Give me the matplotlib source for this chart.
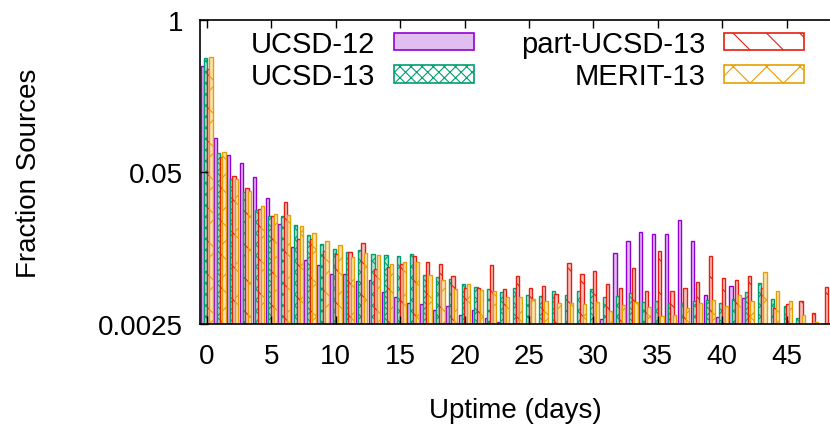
import numpy as np
import matplotlib
matplotlib.use("Agg")
import matplotlib.pyplot as plt
from matplotlib.patches import Patch

plt.rcParams['font.family'] = ['Liberation Sans', 'DejaVu Sans']
plt.rcParams['hatch.linewidth'] = 0.8

days = np.arange(49)

ucsd12 = [0.406, 0.0977, 0.0704, 0.0597, 0.0450, 0.0298, 0.0179, 0.0114, 0.0089, 0.0080,
          0.0067, 0.0067, 0.00588, 0.00600, 0.00467, 0.00423, 0.00376, 0.00371, 0.00329, 0.00354,
          0.00298, 0.00329, 0.00281, 0.00258, 0.0024, 0.002, 0.002, 0.002, 0.002, 0.002,
          0.002, 0.00276, 0.0102, 0.0129, 0.0152, 0.0146, 0.0146, 0.0194, 0.0129, 0.00446,
          0.00285, 0.00528, 0.00418, 0.0023, 0.002, 0.002, 0.002, 0.002, 0.002]
ucsd13 = [0.470, 0.0722, 0.0439, 0.0337, 0.0236, 0.0211, 0.0211, 0.0177, 0.0144, 0.0120,
          0.0110, 0.0103, 0.0108, 0.0099, 0.00975, 0.00955, 0.0099, 0.00657, 0.00628, 0.00607,
          0.00551, 0.00523, 0.00499, 0.00467, 0.00509, 0.00446, 0.00434, 0.00483, 0.00443, 0.00483,
          0.00502, 0.00423, 0.00434, 0.00458, 0.00388, 0.00396, 0.00376, 0.00376, 0.00396, 0.00401,
          0.00376, 0.00407, 0.00467, 0.00565, 0.00410, 0.00359, 0.00281, 0.0024, 0.002]
part_ucsd13 = [0.381, 0.0668, 0.0459, 0.0365, 0.0240, 0.0211, 0.0279, 0.0133, 0.0133, 0.0106,
               0.0099, 0.0103, 0.0123, 0.00739, 0.00774, 0.00816, 0.00955, 0.00855, 0.00816, 0.00640,
               0.00509, 0.00509, 0.0080, 0.00496, 0.00640, 0.00505, 0.00525, 0.00452, 0.00826, 0.00670,
               0.00706, 0.00551, 0.00509, 0.00750, 0.00480, 0.0105, 0.00480, 0.00505, 0.00576, 0.00949,
               0.00619, 0.00591, 0.00640, 0.00509, 0.00343, 0.00371, 0.00391, 0.00313, 0.0052]
merit13 = [0.479, 0.0746, 0.0439, 0.0346, 0.0254, 0.0219, 0.0214, 0.0172, 0.0149, 0.0128,
           0.0119, 0.0094, 0.0101, 0.00975, 0.00816, 0.00855, 0.00843, 0.00653, 0.00600, 0.00496,
           0.00551, 0.00489, 0.00483, 0.00428, 0.00423, 0.00410, 0.00396, 0.00376, 0.00381, 0.00371,
           0.00386, 0.00325, 0.00364, 0.00383, 0.00347, 0.00293, 0.00297, 0.00340, 0.00378, 0.00404,
           0.00357, 0.00440, 0.00396, 0.00697, 0.00480, 0.00394, 0.00298, 0.0026, 0.00254]

labels = ['UCSD-12', 'UCSD-13', 'part-UCSD-13', 'MERIT-13']
series = [ucsd12, ucsd13, part_ucsd13, merit13]
colors = ['#9400D3', '#009E73', '#E51E10', '#E69F00']
faces = ['#E1BEF0', '#B8E0D4', '#F6C4C0', '#F8E2B8']
hatches = ['', 'xxx', '\\', 'x']

fig = plt.figure(figsize=(8.3, 4.27), dpi=100)
ax = fig.add_axes([200/830, 102/427, 650/830, 304/427])

w = 0.256
offs = [-0.32, -0.107, 0.107, 0.32]
for s, c, f, h, o in zip(series, colors, faces, hatches, offs):
    ax.bar(days + o, s, width=w, facecolor=f, edgecolor=c, hatch=h, linewidth=1.0)

ax.set_yscale('log')
ax.set_ylim(0.0025, 1)
ax.set_yticks([0.0025, 0.05, 1])
ax.set_yticklabels(['0.0025', '0.05', '1'])
ax.yaxis.set_minor_locator(matplotlib.ticker.NullLocator())
ax.set_xlim(-0.54, (850 - 207) / 12.88)
ax.set_xticks(np.arange(0, 50, 5))
ax.tick_params(axis='both', direction='in', labelsize=20, length=6, width=1,
               top=True, right=False)
ax.tick_params(axis='x', pad=14)
ax.tick_params(axis='y', pad=12)
ax.spines['right'].set_visible(False)
for sp in ['left', 'bottom', 'top']:
    ax.spines[sp].set_linewidth(1.2)

ax.set_ylabel('Fraction Sources', fontsize=20)
ax.yaxis.set_label_coords(-0.243, 0.5)
ax.set_xlabel('Uptime (days)', fontsize=20)
ax.xaxis.set_label_coords((515 - 200) / 650, -0.24)

handles = [Patch(facecolor=('#E1BEF0' if i == 0 else 'white'), edgecolor=c, hatch=h, linewidth=1.2)
           for i, (c, h) in enumerate(zip(colors, hatches))]
ax.legend(handles, labels, ncol=2, markerfirst=False, frameon=False, fontsize=21,
          handlelength=2.74, handleheight=0.54, handletextpad=0.63, columnspacing=1.64,
          labelspacing=0.15, borderpad=0, borderaxespad=0,
          loc='upper right', bbox_to_anchor=(804/830, 1 - 31/427), bbox_transform=fig.transFigure)

fig.savefig('out.png', dpi=100)
